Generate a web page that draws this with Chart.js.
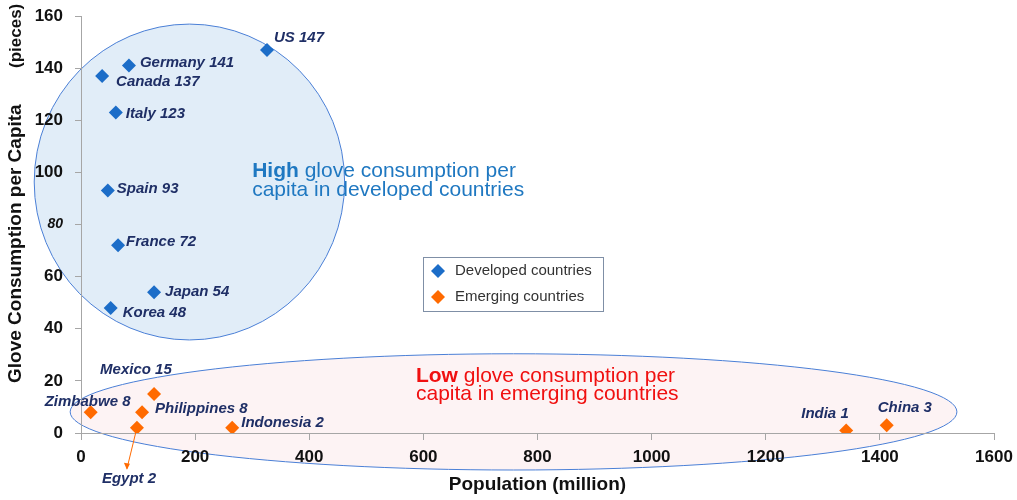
<!DOCTYPE html>
<html>
<head>
<meta charset="utf-8">
<script src="https://cdn.jsdelivr.net/npm/chart.js@4.4.1/dist/chart.umd.min.js"></script>
<style>
  html, body { margin: 0; padding: 0; background: #fff; }
  #wrap { width: 1017px; height: 500px; }
</style>
</head>
<body>
<div id="wrap"><canvas id="chart"></canvas></div>
<script>
// ── Data ──────────────────────────────────────────
const devNames = ['US', 'Germany', 'Canada', 'Italy', 'Spain', 'France', 'Japan', 'Korea'];
const devPop   = [326, 84, 37, 61, 47, 65, 128, 52];
const devGlove = [147, 141, 137, 123, 93, 72, 54, 48];

const emNames = ['Mexico', 'Zimbabwe', 'Philippines', 'Egypt', 'Indonesia', 'India', 'China'];
const emPop   = [128, 17, 107, 98, 265, 1341, 1412];
const emGlove = [15, 8, 8, 2, 2, 1, 3];

const xTicks = [0, 200, 400, 600, 800, 1000, 1200, 1400, 1600];
const yTicks = [0, 20, 40, 60, 80, 100, 120, 140, 160];

// label offsets in px from the marker (left edge / middle of text)
const devLabelOff = [[7, -12], [11, -3], [14, 6], [10, 1], [9, -2], [8, -3], [11, 0], [12, 5]];
const emLabelOff  = [[-54, -24], [-46, -10], [13, -3], [-35, 51], [9, -5], [-45, -17], [-9, -17]];

// highlighted zones, in data units (centre, radii)
const highZone = { x: 190, y: 96.3, rx: 272, ry: 60.6 };
const lowZone  = { x: 758, y: 8.1, rx: 777, ry: 22.3 };

const FONT = 'Arial, "Liberation Sans", sans-serif';
const BLUE = '#1c6dc8';
const ORANGE = '#ff6a00';
const NAVY = '#1f2f66';

function toPoints(xs, ys) {
  return xs.map((x, i) => ({ x: x, y: ys[i] }));
}

// ── Zones (drawn behind everything) ───────────────
const zonePlugin = {
  id: 'zones',
  beforeDraw(chart) {
    const { ctx, scales: { x, y } } = chart;
    const ellipse = (z, fill, stroke) => {
      const cx = x.getPixelForValue(z.x), cy = y.getPixelForValue(z.y);
      const rx = x.getPixelForValue(z.x + z.rx) - cx;
      const ry = cy - y.getPixelForValue(z.y + z.ry);
      ctx.save();
      ctx.beginPath();
      ctx.ellipse(cx, cy, rx, ry, 0, 0, Math.PI * 2);
      ctx.fillStyle = fill;
      ctx.fill();
      ctx.lineWidth = 1;
      ctx.strokeStyle = stroke;
      ctx.stroke();
      ctx.restore();
    };
    ellipse(highZone, 'rgba(205,225,244,0.6)', '#4a7fd6');
    ellipse(lowZone, 'rgba(250,228,230,0.45)', '#4a7fd6');
  }
};

// ── Labels, notes, legend ─────────────────────────
const notePlugin = {
  id: 'notes',
  afterDatasetsDraw(chart) {
    const { ctx, scales: { x, y } } = chart;
    ctx.save();

    // y axis title (drawn by hand, it sits a bit above centre)
    ctx.save();
    ctx.translate(16, 383);
    ctx.rotate(-Math.PI / 2);
    ctx.fillStyle = '#111';
    ctx.textBaseline = 'middle';
    ctx.textAlign = 'left';
    ctx.font = 'bold 19px ' + FONT;
    ctx.fillText('Glove Consumption per Capita', 0, 0);
    ctx.font = 'bold 17px ' + FONT;
    ctx.fillText('(pieces)', 315, 0);
    ctx.restore();

    // Egypt arrow
    const ei = emNames.indexOf('Egypt');
    const ex = x.getPixelForValue(emPop[ei]), ey = y.getPixelForValue(emGlove[ei]);
    const ax = ex - 10, ay = ey + 41;
    ctx.strokeStyle = ORANGE;
    ctx.fillStyle = ORANGE;
    ctx.lineWidth = 1;
    ctx.beginPath();
    ctx.moveTo(ex, ey);
    ctx.lineTo(ax, ay);
    ctx.stroke();
    ctx.beginPath();
    ctx.moveTo(ax, ay + 1);
    ctx.lineTo(ax - 3, ay - 6);
    ctx.lineTo(ax + 3, ay - 5);
    ctx.closePath();
    ctx.fill();

    // point labels
    ctx.font = 'italic bold 15px ' + FONT;
    ctx.fillStyle = NAVY;
    ctx.textBaseline = 'middle';
    ctx.textAlign = 'left';
    devNames.forEach((n, i) => {
      const px = x.getPixelForValue(devPop[i]), py = y.getPixelForValue(devGlove[i]);
      ctx.fillText(n + ' ' + devGlove[i], px + devLabelOff[i][0], py + devLabelOff[i][1]);
    });
    emNames.forEach((n, i) => {
      const px = x.getPixelForValue(emPop[i]), py = y.getPixelForValue(emGlove[i]);
      ctx.fillText(n + ' ' + emGlove[i], px + emLabelOff[i][0], py + emLabelOff[i][1]);
    });

    // zone notes
    ctx.textBaseline = 'alphabetic';
    const note = (bold, rest, line2, lx, by, color) => {
      ctx.fillStyle = color;
      ctx.font = 'bold 21px ' + FONT;
      ctx.fillText(bold, lx, by);
      const w = ctx.measureText(bold + ' ').width;
      ctx.font = '21px ' + FONT;
      ctx.fillText(rest, lx + w, by);
      ctx.fillText(line2, lx, by + 18.5);
    };
    note('High', 'glove consumption per', 'capita in developed countries',
      x.getPixelForValue(300), y.getPixelForValue(100) + 5, '#1f78c1');
    note('Low', 'glove consumption per', 'capita in emerging countries',
      x.getPixelForValue(587), y.getPixelForValue(20) + 1, '#f01010');

    // legend box
    const lx = 423, ly = 257;
    ctx.fillStyle = '#fff';
    ctx.fillRect(lx, ly, 180, 54);
    ctx.strokeStyle = '#7f8fa6';
    ctx.lineWidth = 1;
    ctx.strokeRect(lx + 0.5, ly + 0.5, 180, 54);
    const entries = [['Developed countries', BLUE], ['Emerging countries', ORANGE]];
    entries.forEach((e, i) => {
      const cy = ly + 14 + i * 26;
      const cx = lx + 15;
      ctx.fillStyle = e[1];
      ctx.beginPath();
      ctx.moveTo(cx, cy - 7);
      ctx.lineTo(cx + 7, cy);
      ctx.lineTo(cx, cy + 7);
      ctx.lineTo(cx - 7, cy);
      ctx.closePath();
      ctx.fill();
      ctx.fillStyle = '#333';
      ctx.font = '15px ' + FONT;
      ctx.textBaseline = 'middle';
      ctx.fillText(e[0], lx + 32, cy);
    });

    ctx.restore();
  }
};

// ── Chart ─────────────────────────────────────────
const tickFont = (c) => (c.tick && c.tick.value === 80)
  ? { family: FONT, size: 14, weight: 'bold', style: 'italic' }
  : { family: FONT, size: 17, weight: 'bold' };

new Chart(document.getElementById('chart'), {
  type: 'scatter',
  data: {
    datasets: [
      {
        label: 'Developed countries',
        data: toPoints(devPop, devGlove),
        pointStyle: 'rectRot',
        pointRadius: 7,
        pointHoverRadius: 7,
        backgroundColor: BLUE,
        borderColor: BLUE,
        borderWidth: 0
      },
      {
        label: 'Emerging countries',
        data: toPoints(emPop, emGlove),
        pointStyle: 'rectRot',
        pointRadius: 7,
        pointHoverRadius: 7,
        backgroundColor: ORANGE,
        borderColor: ORANGE,
        borderWidth: 0
      }
    ]
  },
  options: {
    responsive: true,
    maintainAspectRatio: false,
    animation: false,
    layout: { padding: { top: 16, right: 23, left: 0, bottom: 0 } },
    plugins: {
      legend: { display: false },
      tooltip: { enabled: false }
    },
    scales: {
      x: {
        type: 'linear',
        min: xTicks[0],
        max: xTicks[xTicks.length - 1],
        afterBuildTicks: (s) => { s.ticks = xTicks.map(v => ({ value: v })); },
        afterFit: (s) => { s.height = 67; s.paddingLeft = 0; s.paddingRight = 0; },
        grid: { drawOnChartArea: false, drawTicks: true, tickLength: 7, color: '#a6a6a6' },
        border: { display: true, color: '#a6a6a6' },
        ticks: { font: tickFont, color: '#111', padding: 7, callback: (v) => String(v) },
        title: {
          display: true,
          text: 'Population (million)',
          color: '#111',
          font: { family: FONT, size: 19, weight: 'bold' },
          padding: { top: 0, bottom: 4 }
        }
      },
      y: {
        type: 'linear',
        min: yTicks[0],
        max: yTicks[yTicks.length - 1],
        afterBuildTicks: (s) => { s.ticks = yTicks.map(v => ({ value: v })); },
        afterFit: (s) => { s.width = 81; s.paddingTop = 0; s.paddingBottom = 0; },
        grid: { drawOnChartArea: false, drawTicks: true, tickLength: 6, color: '#a6a6a6' },
        border: { display: true, color: '#a6a6a6' },
        ticks: { font: tickFont, color: '#111', padding: 12, callback: (v) => String(v) },
        title: { display: false }
      }
    }
  },
  plugins: [zonePlugin, notePlugin]
});
</script>
</body>
</html>
